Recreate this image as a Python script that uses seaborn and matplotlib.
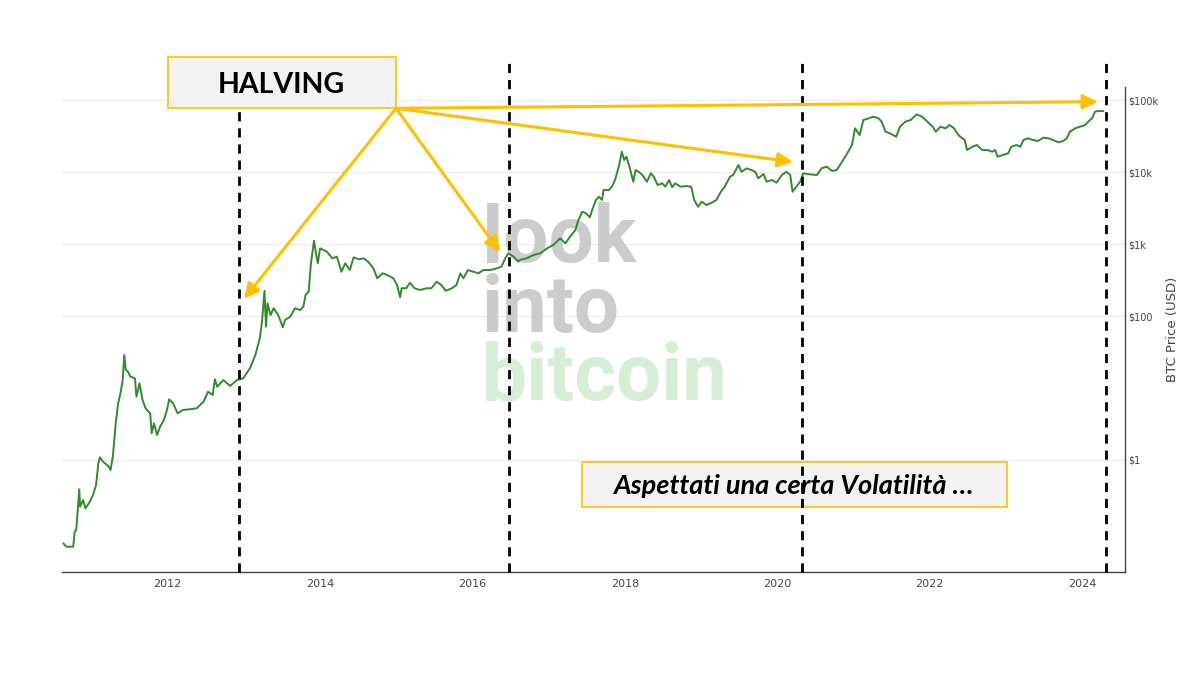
import numpy as np
import pandas as pd
import matplotlib
matplotlib.use("Agg")
import matplotlib.pyplot as plt
import seaborn as sns
from matplotlib.patches import Rectangle
from matplotlib.ticker import FixedLocator, NullLocator

# ---------------- data (decimal year, BTC price in USD) ----------------
cycle1_years = [2010.63, 2010.67, 2010.76, 2010.78, 2010.80, 2010.82, 2010.84, 2010.85, 2010.89, 2010.92,
                2010.98, 2011.02, 2011.06, 2011.09, 2011.11, 2011.15, 2011.22, 2011.25, 2011.28, 2011.32,
                2011.35, 2011.38, 2011.41, 2011.43, 2011.45, 2011.48, 2011.51, 2011.57, 2011.59, 2011.63,
                2011.67, 2011.71, 2011.77, 2011.79, 2011.82, 2011.86, 2011.90, 2011.95, 2011.99, 2012.02,
                2012.07, 2012.13, 2012.20, 2012.29, 2012.38, 2012.47, 2012.53, 2012.59, 2012.62, 2012.65,
                2012.73, 2012.82, 2012.91]
cycle1_prices = [0.0697, 0.0625, 0.0625, 0.101, 0.107, 0.202, 0.392, 0.225, 0.278, 0.213,
                 0.264, 0.327, 0.450, 0.90, 1.09, 0.95, 0.826, 0.727, 1.11, 3.40,
                 6.13, 8.44, 12.9, 28.7, 17.8, 16.8, 14.4, 13.6, 7.57, 11.6,
                 6.81, 5.22, 4.45, 2.35, 3.23, 2.22, 2.90, 3.59, 4.95, 6.97,
                 6.13, 4.45, 4.95, 5.06, 5.22, 6.45, 8.89, 8.0, 13.2, 10.4,
                 12.9, 10.7, 12.9]

cycle2_years = [2012.99, 2013.08, 2013.15, 2013.21,
                2013.24, 2013.27, 2013.29, 2013.31, 2013.35, 2013.39, 2013.45, 2013.51, 2013.54, 2013.61,
                2013.67, 2013.74, 2013.78, 2013.81, 2013.85, 2013.88, 2013.92, 2013.95, 2013.97, 2014.00,
                2014.09, 2014.16, 2014.22, 2014.28, 2014.33, 2014.39, 2014.44, 2014.51, 2014.57, 2014.63,
                2014.70, 2014.75, 2014.82, 2014.88, 2014.96, 2015.01, 2015.05, 2015.07, 2015.13, 2015.18,
                2015.24, 2015.31, 2015.40, 2015.46, 2015.53, 2015.59, 2015.65, 2015.73, 2015.79, 2015.84,
                2015.88, 2015.94, 2016.01, 2016.08, 2016.14, 2016.23, 2016.32, 2016.38, 2016.43, 2016.47]
cycle2_prices = [13.6, 18.8, 28.7, 49.5,
                 88, 224, 71, 150, 103, 128, 103, 70, 88, 98,
                 128, 121, 135, 196, 218, 540, 1112, 703, 540, 871,
                 782, 633, 667, 412, 540, 435, 653, 613, 633, 568,
                 460, 334, 392, 371, 334, 270, 182, 243, 243, 290,
                 243, 230, 243, 243, 299, 270, 224, 243, 270, 392,
                 334, 435, 412, 392, 435, 435, 460, 484, 633, 743]

cycle3_years = [2016.54, 2016.60, 2016.62, 2016.71, 2016.80, 2016.89, 2016.98, 2017.06, 2017.15, 2017.22,
                2017.28, 2017.35, 2017.39, 2017.44, 2017.49, 2017.54, 2017.57, 2017.62, 2017.66, 2017.70,
                2017.72, 2017.79, 2017.83, 2017.87, 2017.92, 2017.96, 2017.99, 2018.02, 2018.06, 2018.11,
                2018.14, 2018.18, 2018.23, 2018.29, 2018.34, 2018.38, 2018.43, 2018.49, 2018.53, 2018.58,
                2018.62, 2018.66, 2018.73, 2018.80, 2018.87, 2018.91, 2018.96, 2019.01, 2019.07, 2019.14,
                2019.20, 2019.26, 2019.31, 2019.38, 2019.42, 2019.49, 2019.53, 2019.60, 2019.66, 2019.71,
                2019.75, 2019.82, 2019.86, 2019.93, 2019.99, 2020.06, 2020.12, 2020.17, 2020.20, 2020.25,
                2020.30]
cycle3_prices = [667, 568, 600, 633, 703, 743, 871, 968, 1200, 1023,
                 1262, 1563, 2154, 2810, 2667, 2350, 2966, 4084, 4540, 4084,
                 5623, 5623, 6250, 7743, 11850, 19140, 14680, 16320, 11850, 7330,
                 10660, 10090, 9085, 7330, 9590, 8610, 6590, 6970, 6250, 7743,
                 6135, 6970, 6250, 6395, 6250, 4084, 3297, 3870, 3481, 3748,
                 4084, 5325, 6250, 8610, 9085, 12500, 10090, 11250, 10660, 10090,
                 8180, 9380, 7330, 7743, 7100, 9085, 10090, 9085, 5325, 6250,
                 7330]

cycle4_years = [2020.34, 2020.43, 2020.52, 2020.58, 2020.65, 2020.72, 2020.78, 2020.85, 2020.91, 2020.98,
                2021.02, 2021.08, 2021.13, 2021.20, 2021.26, 2021.33, 2021.37, 2021.42, 2021.48, 2021.56,
                2021.61, 2021.68, 2021.75, 2021.83, 2021.90, 2021.97, 2022.04, 2022.08, 2022.14, 2022.21,
                2022.26, 2022.32, 2022.36, 2022.40, 2022.46, 2022.49, 2022.56, 2022.62, 2022.69, 2022.76,
                2022.82, 2022.86, 2022.89, 2022.96, 2023.03, 2023.07, 2023.14, 2023.19, 2023.23, 2023.29,
                2023.36, 2023.42, 2023.49, 2023.56, 2023.62, 2023.69, 2023.75, 2023.80, 2023.84, 2023.91,
                2023.97, 2024.04, 2024.08, 2024.13, 2024.17, 2024.21, 2024.28]
cycle4_prices = [9590, 9290, 9085, 11250, 11850, 10330, 10660, 13900, 17620, 23710,
                 40460, 32640, 52740, 55700, 58660, 55700, 50000, 36300, 34500, 30900,
                 42560, 50000, 52740, 63250, 58660, 50000, 42560, 36300, 42560, 40460,
                 44950, 40460, 34500, 30900, 27800, 20200, 22440, 23710, 20200, 20200,
                 19140, 20200, 16320, 17220, 18200, 22440, 23710, 22440, 27800, 29380,
                 27800, 26970, 29950, 29380, 27800, 25870, 26970, 29380, 36300, 40460,
                 42560, 44950, 50000, 55700, 68830, 70310, 70310]

halving_years = [2012.93, 2016.48, 2020.33, 2024.32]

x_tick_values = [2012, 2014, 2016, 2018, 2020, 2022, 2024]
x_tick_labels = ["2012", "2014", "2016", "2018", "2020", "2022", "2024"]
y_tick_values = [1, 100, 1000, 10000, 100000]
y_tick_labels = ["$1", "$100", "$1k", "$10k", "$100k"]

df = pd.DataFrame({
    "year": cycle1_years + cycle2_years + cycle3_years + cycle4_years,
    "price": cycle1_prices + cycle2_prices + cycle3_prices + cycle4_prices,
})

# ---------------- figure ----------------
sns.set_theme(style="white")
plt.rcParams['font.family'] = ['DejaVu Sans']

W, H = 1200, 675
def fx(x):
    return x / W
def fy(y):
    return 1 - y / H

fig = plt.figure(figsize=(12, 6.75), dpi=100)
fig.patch.set_facecolor("white")
ax = fig.add_axes([fx(62), fy(572), (1125 - 62) / W, (572 - 87) / H])

sns.lineplot(data=df, x="year", y="price", ax=ax, color="#2e8b2e", lw=1.4,
             estimator=None, sort=True, zorder=2)

ax.set_yscale("log")
ax.set_xlim(2010.613, 2024.563)
ax.set_ylim(0.0278, 151700)

ax.xaxis.set_major_locator(FixedLocator(x_tick_values))
ax.set_xticklabels(x_tick_labels)
ax.yaxis.set_major_locator(FixedLocator(y_tick_values))
ax.yaxis.set_minor_locator(NullLocator())
ax.set_yticklabels(y_tick_labels)
ax.yaxis.tick_right()
ax.yaxis.set_label_position("right")

ax.tick_params(axis="x", length=0, pad=5, labelsize=8, labelcolor="#444444")
ax.tick_params(axis="y", length=0, pad=2, labelsize=7, labelcolor="#444444")
ax.set_xlabel("")
ax.set_ylabel("BTC Price (USD)", fontsize=9.5, color="#444444", labelpad=6)

ax.grid(axis="y", color="#eeeeee", lw=1)
ax.grid(axis="x", visible=False)
ax.set_axisbelow(True)
for s in ["top", "left"]:
    ax.spines[s].set_visible(False)
for s in ["bottom", "right"]:
    ax.spines[s].set_color("#444444")
    ax.spines[s].set_linewidth(1)

# halving lines
for h in halving_years:
    ax.axvline(h, ymin=0, ymax=1.056, color="black", lw=2, ls=(0, (3.3, 2.5)),
               clip_on=False, zorder=3)

# watermark
wm = dict(transform=fig.transFigure, family=["Roboto", "DejaVu Sans"], fontweight="bold",
          fontsize=57.6, ha="left", va="baseline", zorder=1.5)
ax.text(fx(482), fy(332), "look\ninto", color="#cccccc", linespacing=0.92, **wm)
ax.text(fx(482), fy(400), "bitcoin", color="#d6edd6", **wm)

# volatility box (under the halving lines)
ax.add_patch(Rectangle((fx(582), fy(506.7)), (1006.7 - 582) / W, (506.7 - 462.3) / H,
                       transform=fig.transFigure, facecolor="#f2f2f2", edgecolor="#ffc000",
                       lw=1.2, zorder=2.5, clip_on=False))
ax.text(fx(793), fy(494), "Aspettati una certa Volatilità …", transform=fig.transFigure,
        ha="center", va="baseline", family=["Lato", "DejaVu Sans"], fontstyle="italic",
        fontweight="bold", fontsize=19.5, color="black", zorder=2.6)

# arrows from the HALVING box
src = (fx(396), fy(108.3))
targets = [(244, 299), (500, 252), (793, 162), (1098, 101.7)]
for tx, ty in targets:
    ax.annotate("", xy=(fx(tx), fy(ty)), xycoords="figure fraction",
                xytext=src, textcoords="figure fraction",
                arrowprops=dict(arrowstyle="-|>,head_length=0.45,head_width=0.22",
                                color="#ffc000", lw=2.2, shrinkA=0, shrinkB=0,
                                mutation_scale=20),
                annotation_clip=False, zorder=9)

# HALVING box (on top)
fig.add_artist(Rectangle((fx(167.7), fy(108.3)), (395.7 - 167.7) / W, (108.3 - 56.7) / H,
                         transform=fig.transFigure, facecolor="#f2f2f2", edgecolor="#ffc000",
                         lw=1.2, zorder=10))
fig.text(fx(281), fy(93.3), "HALVING", ha="center", va="baseline",
         family=["Lato", "DejaVu Sans"], fontweight="bold", fontsize=20.5, color="black",
         zorder=11)

fig.savefig("out.png", dpi=100)
